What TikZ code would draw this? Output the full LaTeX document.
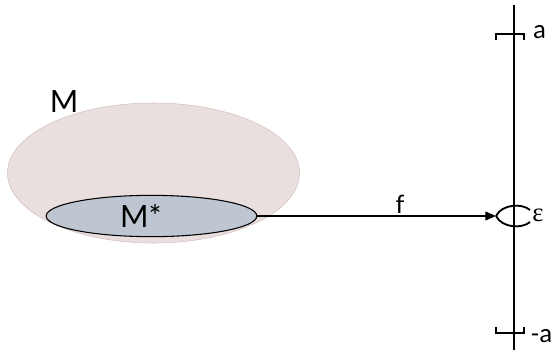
\documentclass[tikz,border=0pt]{standalone}
\usepackage{fontspec}
\setmainfont{Lato}
\newfontfamily\greekfont{Liberation Serif}
\usetikzlibrary{shapes.geometric,arrows.meta}
\begin{document}
\begin{tikzpicture}[x=0.75pt,y=-0.75pt]
			\definecolor{setfill}{RGB}{233, 223, 222}
			\definecolor{setedge}{RGB}{212, 192, 188}
			\definecolor{subfill}{RGB}{190, 198, 209}
			\tikzset{lbl/.style={font=\fontsize{19}{22}\selectfont, inner sep=0pt}}
			\useasboundingbox (0,0) rectangle (552,350);
			\node[ellipse, draw=setedge, fill=setfill, minimum width=219pt, minimum height=105pt, inner sep=0pt] (setM) at (153.5,173) {};
			\node[ellipse, draw=black, thick, fill=subfill, minimum width=158pt, minimum height=31pt, inner sep=0pt] (setMs) at (151.5,216) {};
			\node[lbl, font=\fontsize{23}{26}\selectfont] (labM) at (64,102) {M};
			\node[lbl, font=\fontsize{23}{26}\selectfont] (labMs) at (141,216) {M*};
			% the real line
			\coordinate (top) at (514,5);
			\coordinate (bot) at (514,350);
			\coordinate (eps) at (496,216);
			\draw[line width=1.4pt] (top) -- (bot);
			\draw[line width=2pt] (496,40) -- (496,34) -- (524,34) -- (524,40);
			\draw[line width=2pt] (496,327) -- (496,333) -- (524,333) -- (524,327);
			\node[lbl, anchor=west] (laba) at (533,32) {a};
			\node[lbl, anchor=west] (labma) at (530,336) {-a};
			% neighbourhood of f(M*)
			\draw[line width=1.4pt] (eps) .. controls (502,204) and (522,203) .. (530,210);
			\draw[line width=1.4pt] (eps) .. controls (502,228) and (522,229) .. (530,222);
			\node[lbl, anchor=west, font=\greekfont\fontsize{20}{22}\selectfont] (labeps) at (532,215) {ε};
			\draw[line width=1.4pt, -{Triangle[length=8pt,width=6.5pt]}] (setMs.east) -- (eps);
			\node[lbl] (labf) at (400,204) {f};
		\end{tikzpicture}
\end{document}
